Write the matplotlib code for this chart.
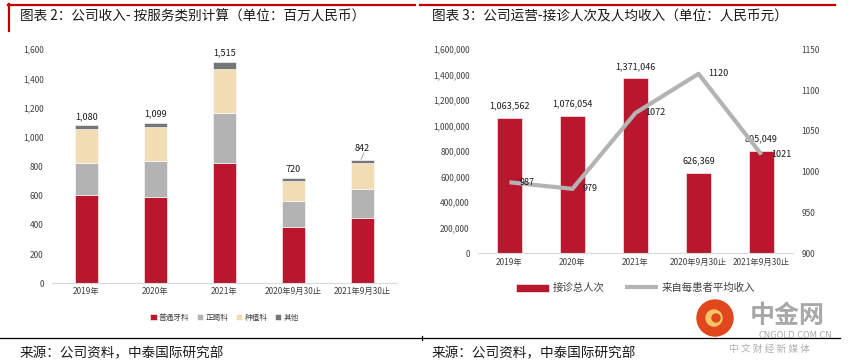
import matplotlib
matplotlib.use('Agg')
import matplotlib.pyplot as plt
from matplotlib.patches import Ellipse
from matplotlib.lines import Line2D
from matplotlib.ticker import FuncFormatter, FixedLocator
import numpy as np

plt.rcParams['font.family'] = ['Noto Sans CJK SC', 'DejaVu Sans']

# ---- data ----
categories = ['2019年', '2020年', '2021年', '2020年9月30止', '2021年9月30止']

# chart 2: revenue by service type (RMB mn)
general = [601, 592, 824, 387, 446]
ortho = [219, 246, 342, 175, 199]
implant = [233, 232, 299, 137, 175]
other = [27, 29, 50, 21, 22]
totals = [1080, 1099, 1515, 720, 842]
seg_names = ['普通牙科', '正畸科', '种植科', '其他']

# chart 3: visits and revenue per patient
visits = [1063562, 1076054, 1371046, 626369, 805049]
per_patient = [987, 979, 1072, 1120, 1021]

RED = '#B8172E'
GRAY = '#B3B3B3'
BEIGE = '#F1DCB4'
DARK = '#767676'
TXT = '#404040'

W, H = 853, 363
fig = plt.figure(figsize=(W / 100, H / 100), dpi=100)

def fx(x):
    return x / W

def fy(y):
    return 1 - y / H

def box(x0, y0, x1, y1):
    return [fx(x0), fy(y1), fx(x1) - fx(x0), fy(y0) - fy(y1)]

# ---- frame decorations ----
fig.add_artist(Line2D([fx(8), fx(415)], [fy(4.5), fy(4.5)], color='#C00000', lw=1.6))
fig.add_artist(Line2D([fx(420), fx(835)], [fy(4.5), fy(4.5)], color='#C00000', lw=1.6))
fig.add_artist(Line2D([fx(8.5), fx(8.5)], [fy(4), fy(31)], color='#C00000', lw=1.6))
fig.add_artist(Line2D([fx(0), fx(840)], [fy(338), fy(338)], color='black', lw=0.9))
fig.add_artist(Line2D([fx(422), fx(422)], [fy(336), fy(340)], color='black', lw=0.9))

fig.text(fx(20), fy(17), '图表 2：公司收入- 按服务类别计算（单位：百万人民币）',
         fontsize=9.8, color='#1a1a1a', va='center')
fig.text(fx(432), fy(17), '图表 3：公司运营-接诊人次及人均收入（单位：人民币元）',
         fontsize=9.8, color='#1a1a1a', va='center')
fig.text(fx(20), fy(353), '来源：公司资料，中泰国际研究部', fontsize=9.8, color='#1a1a1a', va='center')
fig.text(fx(432), fy(353), '来源：公司资料，中泰国际研究部', fontsize=9.8, color='#1a1a1a', va='center')

# ---- chart 2 ----
x = np.arange(len(categories))
ax1 = fig.add_axes(box(52, 49.3, 397, 283.3))
bottom = np.zeros(len(categories))
colors = [RED, GRAY, BEIGE, DARK]
for vals, c, name in zip([general, ortho, implant, other], colors, seg_names):
    ax1.bar(x, vals, 0.32, bottom=bottom, color=c, label=name,
            edgecolor='white', linewidth=0.4)
    bottom += np.array(vals)
for i, t in enumerate(totals):
    off = 52 if i == 4 else 30
    ax1.text(x[i], t + off, f'{t:,}', ha='center', va='bottom', fontsize=6.5, color='#1a1a1a')
ax1.plot([x[4] - 0.02, x[4] + 0.02], [totals[4] + 5, totals[4] + 50], color='#999999', lw=0.6)
ax1.set_xlim(-0.5, 4.5)
ax1.set_ylim(0, 1600)
ax1.yaxis.set_major_locator(FixedLocator(range(0, 1601, 200)))
ax1.yaxis.set_major_formatter(FuncFormatter(lambda v, p: f'{int(v):,}'))
ax1.set_xticks(x)
ax1.set_xticklabels(categories)
for s in ['top', 'right', 'left']:
    ax1.spines[s].set_visible(False)
ax1.spines['bottom'].set_color('#d9d9d9')
ax1.tick_params(axis='both', length=0, labelsize=6, colors=TXT)
ax1.tick_params(axis='y', pad=6)
ax1.tick_params(axis='x', pad=3)
ax1.legend(loc='upper center', bbox_to_anchor=(0.5, -0.1), ncol=4, frameon=False,
           fontsize=5.5, handlelength=0.8, handleheight=0.8, handletextpad=0.3,
           columnspacing=1.0, labelcolor=TXT)

# ---- chart 3 ----
ax2 = fig.add_axes(box(478, 49.3, 793, 253.3))
ax2.bar(x, visits, 0.4, color=RED, edgecolor='white', linewidth=0.4, label='接诊总人次')
for i, v in enumerate(visits):
    ax2.text(x[i], v + 60000, f'{v:,}', ha='center', va='bottom', fontsize=6.5, color='#1a1a1a')
ax2.set_xlim(-0.5, 4.5)
ax2.set_ylim(0, 1600000)
ax2.yaxis.set_major_locator(FixedLocator(range(0, 1600001, 200000)))
ax2.yaxis.set_major_formatter(FuncFormatter(lambda v, p: f'{int(v):,}'))
ax2.set_xticks(x)
ax2.set_xticklabels(categories)
for s in ['top', 'right', 'left']:
    ax2.spines[s].set_visible(False)
ax2.spines['bottom'].set_color('#d9d9d9')
ax2.tick_params(axis='both', length=0, labelsize=6, colors=TXT)
ax2.tick_params(axis='y', pad=6)

ax3 = ax2.twinx()
ax3.plot(x, per_patient, color=GRAY, lw=3, solid_capstyle='butt', label='来自每患者平均收入')
for i, v in enumerate(per_patient):
    ax3.annotate(str(v), (x[i], v), xytext=(7, 0), textcoords='offset points',
                 ha='left', va='center', fontsize=6.5, color='#1a1a1a')
ax3.set_ylim(900, 1150)
ax3.yaxis.set_major_locator(FixedLocator(range(900, 1151, 50)))
for s in ['top', 'right', 'left', 'bottom']:
    ax3.spines[s].set_visible(False)
ax3.tick_params(axis='y', length=0, labelsize=6, colors=TXT, pad=6)

h1, l1 = ax2.get_legend_handles_labels()
h2, l2 = ax3.get_legend_handles_labels()
ax2.legend(h1 + h2, l1 + l2, loc='upper center', bbox_to_anchor=(0.5, -0.1), ncol=2,
           frameon=False, fontsize=7.5, handlelength=3.2, handleheight=0.8,
           handletextpad=0.3, columnspacing=2.0, labelcolor=TXT)

# ---- watermark ----
fig.add_artist(Ellipse((fx(715), fy(318)), 36 / W, 36 / H, color='#E2461C', zorder=5))
fig.add_artist(Ellipse((fx(714), fy(318)), 16 / W, 16 / H, color='#F7C766', zorder=6))
fig.add_artist(Ellipse((fx(716), fy(318)), 8 / W, 8 / H, color='#E2461C', zorder=7))
fig.text(fx(787), fy(316), '中金网', fontsize=18, color='#A8A8A8', ha='center', va='center',
         fontweight='bold', zorder=6)
fig.text(fx(795), fy(335), 'CNGOLD.COM.CN', fontsize=6, color='#A8A8A8', ha='center',
         va='center', family=['DejaVu Sans'], zorder=6)
fig.text(fx(770), fy(349), '中 文 财 经 新 媒 体', fontsize=7, color='#B0B0B0', ha='center',
         va='center', zorder=6)

fig.savefig('out.png', dpi=100)
